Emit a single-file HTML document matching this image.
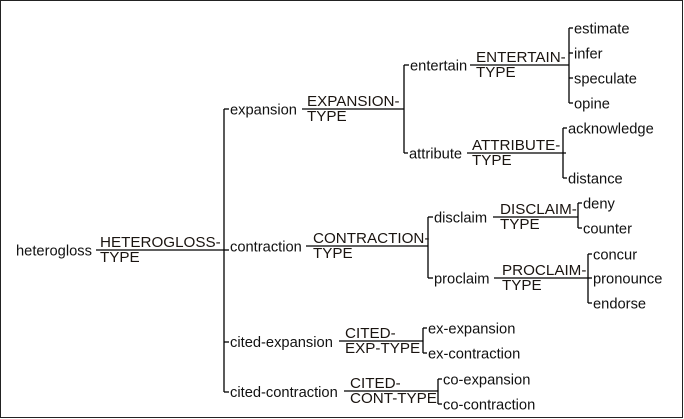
<!DOCTYPE html>
<html><head><meta charset="utf-8"><style>
html,body{margin:0;padding:0;background:#fff;}
svg{display:block;}
text{font-family:"Liberation Sans",Arial,sans-serif;font-size:14.7px;fill:#111;}
text.c{font-size:15.2px;fill:#1a1410;}
</style></head><body>
<svg width="684" height="419" viewBox="0 0 684 419" xmlns="http://www.w3.org/2000/svg">
<rect x="0.5" y="0.5" width="682" height="417" fill="#fff" stroke="#222" stroke-width="1"/>
<g stroke="#000" stroke-width="1.3" fill="none">
<line x1="96" y1="250" x2="224" y2="250"/>
<line x1="224" y1="109" x2="224" y2="392"/>
<line x1="224" y1="109" x2="229" y2="109"/>
<line x1="224" y1="250" x2="229" y2="250"/>
<line x1="224" y1="342" x2="229" y2="342"/>
<line x1="224" y1="392" x2="229" y2="392"/>
<line x1="302" y1="109" x2="404" y2="109"/>
<line x1="404" y1="65" x2="404" y2="153"/>
<line x1="404" y1="65" x2="409" y2="65"/>
<line x1="404" y1="153" x2="408" y2="153"/>
<line x1="470" y1="65" x2="569" y2="65"/>
<line x1="569" y1="28" x2="569" y2="103"/>
<line x1="569" y1="28" x2="573" y2="28"/>
<line x1="569" y1="53" x2="573" y2="53"/>
<line x1="569" y1="78" x2="573" y2="78"/>
<line x1="569" y1="103" x2="573" y2="103"/>
<line x1="467" y1="153" x2="566" y2="153"/>
<line x1="563" y1="128" x2="563" y2="178"/>
<line x1="563" y1="128" x2="567" y2="128"/>
<line x1="563" y1="178" x2="567" y2="178"/>
<line x1="306" y1="246" x2="428" y2="246"/>
<line x1="428" y1="217" x2="428" y2="278"/>
<line x1="428" y1="217" x2="433" y2="217"/>
<line x1="428" y1="278" x2="433" y2="278"/>
<line x1="493" y1="217" x2="578" y2="217"/>
<line x1="578" y1="203" x2="578" y2="228"/>
<line x1="578" y1="203" x2="582" y2="203"/>
<line x1="578" y1="228" x2="582" y2="228"/>
<line x1="494" y1="278" x2="588" y2="278"/>
<line x1="588" y1="254" x2="588" y2="303"/>
<line x1="588" y1="254" x2="592" y2="254"/>
<line x1="588" y1="278" x2="592" y2="278"/>
<line x1="588" y1="303" x2="592" y2="303"/>
<line x1="339" y1="341" x2="423" y2="341"/>
<line x1="423" y1="328" x2="423" y2="353"/>
<line x1="423" y1="328" x2="427" y2="328"/>
<line x1="423" y1="353" x2="427" y2="353"/>
<line x1="344" y1="391" x2="438" y2="391"/>
<line x1="438" y1="379" x2="438" y2="404"/>
<line x1="438" y1="379" x2="442" y2="379"/>
<line x1="438" y1="404" x2="442" y2="404"/>
</g>
<text x="16" y="255.5">heterogloss</text>
<text class="c" x="100" y="247">HETEROGLOSS-</text>
<text class="c" x="100" y="262">TYPE</text>
<text x="230" y="114.5">expansion</text>
<text class="c" x="307" y="106">EXPANSION-</text>
<text class="c" x="307" y="121">TYPE</text>
<text x="410" y="70.5">entertain</text>
<text class="c" x="476" y="62">ENTERTAIN-</text>
<text class="c" x="476" y="77">TYPE</text>
<text x="574" y="33.5">estimate</text>
<text x="574" y="58.5">infer</text>
<text x="574" y="83.5">speculate</text>
<text x="574" y="108.5">opine</text>
<text x="409" y="158.5">attribute</text>
<text class="c" x="472" y="150">ATTRIBUTE-</text>
<text class="c" x="472" y="165">TYPE</text>
<text x="568" y="133.5">acknowledge</text>
<text x="568" y="183.5">distance</text>
<text x="230" y="251.5">contraction</text>
<text class="c" x="313" y="243">CONTRACTION-</text>
<text class="c" x="313" y="258">TYPE</text>
<text x="434" y="222.5">disclaim</text>
<text class="c" x="500" y="214">DISCLAIM-</text>
<text class="c" x="500" y="229">TYPE</text>
<text x="583" y="208.5">deny</text>
<text x="583" y="233.5">counter</text>
<text x="434" y="283.5">proclaim</text>
<text class="c" x="502" y="275">PROCLAIM-</text>
<text class="c" x="502" y="290">TYPE</text>
<text x="593" y="259.5">concur</text>
<text x="593" y="283.5">pronounce</text>
<text x="593" y="308.5">endorse</text>
<text x="230" y="347">cited-expansion</text>
<text class="c" x="345" y="338">CITED-</text>
<text class="c" x="345" y="353">EXP-TYPE</text>
<text x="428" y="333.5">ex-expansion</text>
<text x="428" y="358.5">ex-contraction</text>
<text x="230" y="397">cited-contraction</text>
<text class="c" x="350" y="388">CITED-</text>
<text class="c" x="350" y="403">CONT-TYPE</text>
<text x="443" y="384.5">co-expansion</text>
<text x="443" y="409.5">co-contraction</text>
</svg>
</body></html>
